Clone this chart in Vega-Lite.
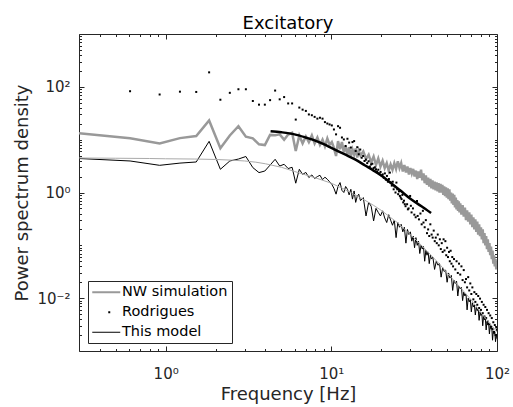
{
  "$schema": "https://vega.github.io/schema/vega-lite/v6.json",
  "width": 418,
  "height": 317,
  "autosize": "none",
  "padding": {"left": 79, "top": 34, "right": 16, "bottom": 56},
  "title": {"text": "Excitatory", "fontSize": 18, "font": "DejaVu Sans", "fontWeight": "normal", "color": "black", "offset": -13, "baseline": "alphabetic"},
  "config": {
    "font": "DejaVu Sans",
    "view": {"stroke": null},
    "axis": {"grid": false, "domainColor": "#262626", "tickColor": "#262626", "labelColor": "#262626", "titleColor": "#262626", "labelFont": "DejaVu Sans", "titleFont": "DejaVu Sans", "labelFontSize": 15, "titleFontSize": 18, "titleFontWeight": "normal", "labelFlush": false, "labelOverlap": false, "domainWidth": 1, "tickWidth": 1}
  },
  "datasets": {
    "nw": [
      {"f":0.3,"p":13.3},{"f":0.61,"p":10.6},{"f":0.92,"p":8.5},{"f":1.22,"p":10.7},{"f":1.53,"p":11.7},{"f":1.83,"p":23.1},{"f":2.14,"p":6.9},{"f":2.44,"p":12},{"f":2.75,"p":18},{"f":3.05,"p":11.4},{"f":3.36,"p":10.6},{"f":3.66,"p":8.15},{"f":3.97,"p":7.9},{"f":4.27,"p":12.3},{"f":4.58,"p":12.1},{"f":4.88,"p":12.6},{"f":5.19,"p":10},{"f":5.49,"p":12.5},{"f":5.8,"p":13.5},{"f":6.1,"p":6.1},{"f":6.41,"p":12},{"f":6.71,"p":8.5},{"f":7.02,"p":11.5},{"f":7.32,"p":9},{"f":7.63,"p":12},{"f":7.93,"p":8.5},{"f":8.24,"p":11},{"f":8.54,"p":8},{"f":8.85,"p":10},{"f":9.15,"p":7.5},{"f":9.46,"p":10.5},{"f":9.76,"p":8},{"f":10.07,"p":9},{"f":10.37,"p":7},{"f":10.68,"p":4.9},{"f":10.98,"p":9.4},{"f":11.29,"p":6.6},{"f":11.59,"p":9},{"f":11.9,"p":5.8},{"f":12.2,"p":7.6},{"f":12.51,"p":5.2},{"f":12.81,"p":7.2},{"f":13.12,"p":4.8},{"f":13.42,"p":6.5},{"f":13.73,"p":5.2},{"f":14.03,"p":6.8},{"f":14.34,"p":4.6},{"f":14.64,"p":6.2},
      {"f":15.0,"p":5.0},{"f":15.6,"p":6.0},{"f":16.2,"p":4.3},{"f":16.8,"p":5.2},{"f":17.4,"p":3.7},{"f":18.0,"p":4.8},{"f":18.6,"p":3.3},{"f":19.2,"p":4.4},{"f":19.8,"p":3.1},{"f":20.4,"p":4.0},{"f":21.0,"p":2.9},{"f":21.6,"p":3.6},{"f":22.2,"p":2.6},{"f":22.8,"p":3.4},{"f":23.4,"p":2.7},{"f":24.0,"p":3.6},{"f":24.6,"p":2.8},{"f":25.2,"p":3.9},{"f":25.8,"p":2.9},{"f":26.4,"p":3.6},{"f":27.0,"p":2.5},{"f":27.6,"p":3.3},{"f":28.2,"p":2.4},{"f":28.8,"p":3.1},{"f":29.4,"p":2.2},{"f":30.0,"p":2.9},{"f":30.6,"p":2.3},{"f":31.2,"p":2.8},{"f":31.8,"p":2.0},{"f":32.4,"p":2.6},{"f":33.0,"p":1.8},{"f":33.6,"p":2.5},{"f":34.2,"p":1.9},{"f":34.8,"p":2.7},{"f":35.4,"p":1.7},{"f":36.0,"p":2.3},{"f":36.6,"p":1.5},{"f":37.2,"p":2.1},{"f":37.8,"p":1.4},{"f":38.4,"p":1.9},{"f":39.0,"p":1.3},{"f":39.6,"p":1.8},{"f":40.2,"p":1.2},{"f":40.8,"p":1.7},{"f":41.4,"p":1.15},{"f":42.0,"p":1.6},{"f":42.6,"p":1.1},{"f":43.2,"p":1.55},{"f":43.8,"p":1.05},{"f":44.4,"p":1.5},{"f":45.0,"p":1.0},{"f":45.6,"p":1.45},{"f":46.2,"p":1.0},{"f":46.8,"p":1.4},{"f":47.4,"p":0.9},{"f":48.0,"p":1.3},{"f":48.6,"p":0.85},{"f":49.2,"p":1.25},{"f":49.8,"p":0.8},{"f":50.4,"p":1.2},{"f":51.0,"p":0.75},{"f":51.6,"p":1.15},{"f":52.2,"p":0.7},{"f":52.8,"p":1.0},{"f":53.4,"p":0.62},{"f":54.0,"p":0.95},{"f":54.6,"p":0.58},{"f":55.2,"p":0.9},{"f":55.8,"p":0.52},{"f":56.4,"p":0.8},{"f":57.0,"p":0.48},{"f":57.6,"p":0.72},{"f":58.2,"p":0.45},{"f":58.8,"p":0.68},{"f":59.4,"p":0.42},{"f":60.0,"p":0.62},
      {"f":61,"p":0.38},{"f":62,"p":0.58},{"f":63,"p":0.35},{"f":64,"p":0.52},{"f":65,"p":0.3},{"f":66,"p":0.46},{"f":67,"p":0.28},{"f":68,"p":0.42},{"f":69,"p":0.25},{"f":70,"p":0.38},{"f":71,"p":0.22},{"f":72,"p":0.34},{"f":73,"p":0.2},{"f":74,"p":0.31},{"f":75,"p":0.18},{"f":76,"p":0.28},{"f":77,"p":0.16},{"f":78,"p":0.25},{"f":79,"p":0.15},{"f":80,"p":0.22},{"f":81,"p":0.13},{"f":82,"p":0.2},{"f":83,"p":0.11},{"f":84,"p":0.17},{"f":85,"p":0.1},{"f":86,"p":0.15},{"f":87,"p":0.085},{"f":88,"p":0.13},{"f":89,"p":0.075},{"f":90,"p":0.11},{"f":91,"p":0.065},{"f":92,"p":0.095},{"f":93,"p":0.055},{"f":94,"p":0.08},{"f":95,"p":0.045},{"f":96,"p":0.065},{"f":97,"p":0.04},{"f":98,"p":0.055},{"f":99,"p":0.035},{"f":100,"p":0.042}
    ],
    "rod": [
      {"f":0.61,"p":82.6},{"f":0.92,"p":71.6},{"f":1.22,"p":81},{"f":1.53,"p":80},{"f":1.83,"p":188},{"f":2.14,"p":57},{"f":2.44,"p":77},{"f":2.75,"p":90},{"f":3.05,"p":90},{"f":3.36,"p":54},{"f":3.66,"p":46},{"f":3.97,"p":46},{"f":4.27,"p":56},{"f":4.58,"p":85},{"f":4.88,"p":58},{"f":5.19,"p":64},{"f":5.49,"p":48.5},{"f":5.8,"p":48.5},{"f":6.1,"p":24},{"f":6.41,"p":40.5},{"f":6.71,"p":37},{"f":7.02,"p":35},{"f":7.32,"p":30},{"f":7.63,"p":29},{"f":7.93,"p":27},{"f":8.24,"p":25},{"f":8.54,"p":26},{"f":8.85,"p":25},{"f":9.15,"p":21.5},{"f":9.46,"p":20.2},{"f":9.76,"p":19.4},{"f":10.07,"p":18.6},{"f":10.37,"p":15.6},{"f":10.68,"p":12.6},{"f":10.98,"p":18},{"f":11.29,"p":16.8},{"f":11.59,"p":11},{"f":11.9,"p":10.1},{"f":12.2,"p":7.6},{"f":12.51,"p":10.4},{"f":12.81,"p":8.8},{"f":13.12,"p":7.1},{"f":13.42,"p":9},{"f":13.73,"p":9.4},{"f":14.03,"p":6.1},{"f":14.34,"p":7.2},{"f":14.64,"p":5.3},{"f":14.95,"p":6.5},{"f":15.25,"p":4.55},{"f":15.56,"p":4.9},{"f":15.86,"p":3.95},
      {"f":16.17,"p":4.2},{"f":16.47,"p":3.6},{"f":16.78,"p":3.9},{"f":17.08,"p":3.1},{"f":17.39,"p":3.4},{"f":17.69,"p":3.5},{"f":18.0,"p":2.9},{"f":18.3,"p":3.0},{"f":18.61,"p":2.75},{"f":18.91,"p":2.5},{"f":19.22,"p":2.7},{"f":19.52,"p":2.3},{"f":19.83,"p":2.45},{"f":20.13,"p":2.1},{"f":20.44,"p":2.2},{"f":20.74,"p":1.9},{"f":21.05,"p":2.3},{"f":21.35,"p":1.75},{"f":21.66,"p":2.06},{"f":21.96,"p":1.6},{"f":22.27,"p":1.8},{"f":22.57,"p":2.38},{"f":22.88,"p":1.55},{"f":23.18,"p":1.35},{"f":23.49,"p":1.6},{"f":23.79,"p":1.15},{"f":24.1,"p":1.3},{"f":24.4,"p":1.0},{"f":24.71,"p":1.54},{"f":25.01,"p":1.15},{"f":25.32,"p":0.93},{"f":25.62,"p":1.05},{"f":25.93,"p":0.86},{"f":26.23,"p":0.8},{"f":26.54,"p":0.75},{"f":26.84,"p":0.9},{"f":27.15,"p":0.65},{"f":27.45,"p":0.7},{"f":27.76,"p":0.6},{"f":28.06,"p":0.55},{"f":28.67,"p":0.6},{"f":28.98,"p":0.48},{"f":29.28,"p":0.5},{"f":29.9,"p":0.86},{"f":30.2,"p":0.56},{"f":30.5,"p":0.42},{"f":31.1,"p":0.5},{"f":31.7,"p":0.38},{"f":32.3,"p":0.34},{"f":32.9,"p":0.69},{"f":33.2,"p":0.36},{"f":33.8,"p":0.31},{"f":34.5,"p":0.4},{"f":35.1,"p":0.25},{"f":35.7,"p":0.45},{"f":36.0,"p":0.27},{"f":36.6,"p":0.22},{"f":37.2,"p":0.3},{"f":37.8,"p":0.17},{"f":38.4,"p":0.2},{"f":39.0,"p":0.15},{"f":39.6,"p":0.25},
      {"f":40.3,"p":0.16},{"f":40.9,"p":0.14},{"f":41.5,"p":0.19},{"f":42.1,"p":0.12},{"f":42.7,"p":0.14},{"f":43.3,"p":0.11},{"f":43.9,"p":0.16},{"f":44.5,"p":0.1},{"f":45.2,"p":0.13},{"f":45.8,"p":0.085},{"f":46.4,"p":0.11},{"f":47.0,"p":0.075},{"f":47.6,"p":0.13},{"f":48.2,"p":0.08},{"f":48.8,"p":0.12},{"f":49.4,"p":0.065},{"f":50.0,"p":0.09},{"f":50.6,"p":0.06},{"f":51.3,"p":0.075},{"f":51.9,"p":0.05},{"f":52.5,"p":0.079},{"f":53.1,"p":0.045},{"f":53.7,"p":0.06},{"f":54.3,"p":0.04},{"f":55,"p":0.055},{"f":56,"p":0.035},{"f":57,"p":0.05},{"f":58,"p":0.03},{"f":59,"p":0.045},{"f":60,"p":0.028},{"f":61,"p":0.04},{"f":62,"p":0.022},{"f":63,"p":0.034},{"f":64,"p":0.02},{"f":65,"p":0.023},{"f":66,"p":0.016},{"f":67,"p":0.025},{"f":68,"p":0.014},{"f":69,"p":0.019},{"f":70,"p":0.012},{"f":71,"p":0.016},{"f":72,"p":0.0095},{"f":73,"p":0.013},{"f":74,"p":0.0085},{"f":75,"p":0.012},{"f":76,"p":0.0075},{"f":77,"p":0.011},{"f":78,"p":0.0065},{"f":79,"p":0.0098},{"f":80,"p":0.006},{"f":81,"p":0.0085},{"f":82,"p":0.0052},{"f":83,"p":0.0075},{"f":84,"p":0.0045},{"f":85,"p":0.0068},{"f":86,"p":0.0042},{"f":87,"p":0.006},{"f":88,"p":0.0036},{"f":89,"p":0.0052},{"f":90,"p":0.0032},{"f":91,"p":0.0047},{"f":92,"p":0.0029},{"f":93,"p":0.0042},{"f":94,"p":0.0026},{"f":95,"p":0.0035},{"f":96,"p":0.0023},{"f":97,"p":0.0031},{"f":98,"p":0.002},{"f":99,"p":0.0028},{"f":100,"p":0.0025}
    ],
    "model": [
      {"f":0.3,"p":4.4},{"f":0.61,"p":3.95},{"f":0.92,"p":3.27},{"f":1.22,"p":3.6},{"f":1.53,"p":3.78},{"f":1.83,"p":9.3},{"f":2.14,"p":2.75},{"f":2.44,"p":3.95},{"f":2.75,"p":4.3},{"f":3.05,"p":4.8},{"f":3.36,"p":2.96},{"f":3.66,"p":2.38},{"f":3.97,"p":2.55},{"f":4.27,"p":3.3},{"f":4.58,"p":4.25},{"f":4.88,"p":3.17},{"f":5.19,"p":3.42},{"f":5.49,"p":2.84},{"f":5.8,"p":3.0},{"f":6.1,"p":1.5},{"f":6.41,"p":2.75},{"f":6.71,"p":2.2},{"f":7.02,"p":2.4},{"f":7.32,"p":1.92},{"f":7.63,"p":2.15},{"f":7.93,"p":1.84},{"f":8.24,"p":2.0},{"f":8.54,"p":2.12},{"f":8.85,"p":1.75},{"f":9.15,"p":1.95},{"f":9.46,"p":1.78},{"f":9.76,"p":1.6},{"f":10.07,"p":1.43},{"f":10.37,"p":1.2},{"f":10.68,"p":0.93},{"f":10.98,"p":1.3},{"f":11.29,"p":1.54},{"f":11.59,"p":1.1},{"f":11.9,"p":1.0},{"f":12.2,"p":1.3},{"f":12.51,"p":1.15},{"f":12.81,"p":0.9},{"f":13.12,"p":1.15},{"f":13.42,"p":0.75},{"f":13.73,"p":1.07},{"f":14.03,"p":0.65},{"f":14.34,"p":0.85},{"f":14.64,"p":0.93},
      {"f":15.0,"p":0.7},{"f":15.6,"p":0.8},{"f":16.2,"p":0.36},{"f":16.8,"p":0.65},{"f":17.4,"p":0.55},{"f":18.0,"p":0.29},{"f":18.6,"p":0.5},{"f":19.2,"p":0.42},{"f":19.8,"p":0.36},{"f":20.4,"p":0.45},{"f":21.0,"p":0.33},{"f":21.6,"p":0.27},{"f":22.2,"p":0.38},{"f":22.8,"p":0.3},{"f":23.4,"p":0.24},{"f":24.0,"p":0.3},{"f":24.6,"p":0.14},{"f":25.2,"p":0.27},{"f":25.8,"p":0.22},{"f":26.4,"p":0.25},{"f":27.0,"p":0.18},{"f":27.6,"p":0.22},{"f":28.2,"p":0.11},{"f":28.8,"p":0.2},{"f":29.4,"p":0.16},{"f":30.0,"p":0.18},{"f":30.6,"p":0.12},{"f":31.2,"p":0.15},{"f":31.8,"p":0.09},{"f":32.4,"p":0.14},{"f":33.0,"p":0.1},{"f":33.6,"p":0.12},{"f":34.2,"p":0.07},{"f":34.8,"p":0.1},{"f":35.4,"p":0.085},{"f":36.0,"p":0.095},{"f":36.6,"p":0.05},{"f":37.2,"p":0.08},{"f":37.8,"p":0.065},{"f":38.4,"p":0.075},{"f":39.0,"p":0.045},{"f":39.6,"p":0.065},{"f":40.2,"p":0.055},
      {"f":41,"p":0.06},{"f":42,"p":0.035},{"f":43,"p":0.05},{"f":44,"p":0.042},{"f":45,"p":0.045},{"f":46,"p":0.025},{"f":47,"p":0.038},{"f":48,"p":0.032},{"f":49,"p":0.034},{"f":50,"p":0.02},{"f":51,"p":0.03},{"f":52,"p":0.024},{"f":53,"p":0.027},{"f":54,"p":0.014},{"f":55,"p":0.022},{"f":56,"p":0.019},{"f":57,"p":0.021},{"f":58,"p":0.011},{"f":59,"p":0.017},{"f":60,"p":0.015},{"f":61,"p":0.016},{"f":62,"p":0.009},{"f":63,"p":0.013},{"f":64,"p":0.011},{"f":65,"p":0.012},{"f":66,"p":0.006},{"f":67,"p":0.01},{"f":68,"p":0.0085},{"f":69,"p":0.0095},{"f":70,"p":0.0055},{"f":71,"p":0.0082},{"f":72,"p":0.0068},{"f":73,"p":0.0075},{"f":74,"p":0.0048},{"f":75,"p":0.0068},{"f":76,"p":0.0058},{"f":77,"p":0.0063},{"f":78,"p":0.0038},{"f":79,"p":0.0055},{"f":80,"p":0.0047},{"f":81,"p":0.0052},{"f":82,"p":0.003},{"f":83,"p":0.0045},{"f":84,"p":0.0039},{"f":85,"p":0.0042},{"f":86,"p":0.0025},{"f":87,"p":0.0036},{"f":88,"p":0.0031},{"f":89,"p":0.0034},{"f":90,"p":0.0021},{"f":91,"p":0.003},{"f":92,"p":0.0026},{"f":93,"p":0.0028},{"f":94,"p":0.0016},{"f":95,"p":0.0024},{"f":96,"p":0.0021},{"f":97,"p":0.0023},{"f":98,"p":0.0015},{"f":99,"p":0.0021},{"f":100,"p":0.0017}
    ],
    "fit": [
      {"f":0.3,"p":4.5},{"f":0.5,"p":4.45},{"f":0.8,"p":4.4},{"f":1,"p":4.35},{"f":1.5,"p":4.3},{"f":2,"p":4.22},{"f":2.5,"p":4.1},{"f":3,"p":3.95},{"f":3.5,"p":3.75},{"f":4,"p":3.5},{"f":5,"p":3.0},{"f":6,"p":2.5},{"f":7,"p":2.15},{"f":8,"p":1.9},{"f":10,"p":1.5},{"f":12,"p":1.15},{"f":15,"p":0.8},{"f":18,"p":0.57},{"f":20,"p":0.46},{"f":25,"p":0.27},{"f":30,"p":0.16},{"f":35,"p":0.1},{"f":40,"p":0.065},{"f":45,"p":0.044},{"f":50,"p":0.03},{"f":60,"p":0.016},{"f":70,"p":0.0092},{"f":80,"p":0.0053},{"f":90,"p":0.0034},{"f":100,"p":0.0023}
    ],
    "curve": [
      {"f":4.3,"p":14.5},{"f":5,"p":13.8},{"f":6,"p":12.6},{"f":7,"p":11},{"f":8,"p":9.6},{"f":9,"p":8.2},{"f":10,"p":7.0},{"f":12,"p":5.3},{"f":14,"p":4.2},{"f":16,"p":3.25},{"f":18,"p":2.6},{"f":20,"p":2.1},{"f":23,"p":1.5},{"f":26,"p":1.1},{"f":30,"p":0.76},{"f":35,"p":0.55},{"f":40,"p":0.41}
    ]
  },
  "layer": [
    {
      "data": {"name": "nw"},
      "mark": {"type": "line", "strokeWidth": 2.5, "clip": true},
      "encoding": {
        "x": {"field": "f", "type": "quantitative", "scale": {"type": "log", "domain": [0.3, 100], "nice": false},
              "axis": {"orient": "bottom", "values": [1, 10, 100], "tickSize": -5, "labelPadding": 20, "labelExpr": "datum.value < 5 ? '10⁰' : datum.value < 50 ? '10¹' : '10²'", "title": "Frequency [Hz]", "titlePadding": 4}},
        "y": {"field": "p", "type": "quantitative", "scale": {"type": "log", "domain": [0.001, 1000], "nice": false},
              "axis": {"orient": "left", "values": [0.01, 1, 100], "tickSize": -5, "labelPadding": 14, "labelExpr": "datum.value < 0.1 ? '10⁻²' : datum.value < 10 ? '10⁰' : '10²'", "title": "Power spectrum density", "titlePadding": 5}},
        "color": {"datum": "NW simulation", "type": "nominal",
                  "scale": {"domain": ["NW simulation", "Rodrigues", "This model"], "range": ["#999999", "#000000", "#000000"]},
                  "legend": {"orient": "none", "legendX": 9, "legendY": 247, "title": null, "padding": 4, "strokeColor": "#262626", "fillColor": "white", "labelFont": "DejaVu Sans", "labelFontSize": 14.5, "labelColor": "black", "symbolType": "M-7,0H21", "symbolSize": 4, "symbolStrokeWidth": 1, "rowPadding": 5, "labelOffset": 15.5,
                    "encoding": {"symbols": {
                      "shape": {"value": {"expr": "datum.value === 'Rodrigues' ? 'M9,-1H11V1H9Z' : 'M-7,0H21'"}},
                      "fill": {"value": {"expr": "datum.value === 'Rodrigues' ? 'black' : 'transparent'"}},
                      "strokeWidth": {"value": {"expr": "datum.value === 'NW simulation' ? 2 : datum.value === 'Rodrigues' ? 0 : 1"}}
                    }}}}
      }
    },
    {
      "data": {"name": "rod"},
      "mark": {"type": "square", "size": 4, "filled": true, "opacity": 1, "clip": true},
      "encoding": {
        "x": {"field": "f", "type": "quantitative", "scale": {"type": "log", "domain": [0.3, 100], "nice": false},
              "axis": {"orient": "bottom", "values": [0.3,0.4,0.5,0.6,0.7,0.8,0.9,2,3,4,5,6,7,8,9,20,30,40,50,60,70,80,90], "tickSize": -2.5, "labels": false, "domain": false, "title": null}},
        "y": {"field": "p", "type": "quantitative", "scale": {"type": "log", "domain": [0.001, 1000], "nice": false},
              "axis": {"orient": "left", "values": [0.002,0.003,0.004,0.005,0.006,0.007,0.008,0.009,0.02,0.03,0.04,0.05,0.06,0.07,0.08,0.09,0.1,0.2,0.3,0.4,0.5,0.6,0.7,0.8,0.9,2,3,4,5,6,7,8,9,10,20,30,40,50,60,70,80,90,200,300,400,500,600,700,800,900], "tickSize": -2.5, "labels": false, "domain": false, "title": null}},
        "color": {"datum": "Rodrigues", "type": "nominal"}
      }
    },
    {
      "data": {"name": "model"},
      "mark": {"type": "line", "strokeWidth": 1, "clip": true},
      "encoding": {
        "x": {"field": "f", "type": "quantitative", "scale": {"type": "log", "domain": [0.3, 100], "nice": false},
              "axis": {"orient": "top", "values": [1, 10, 100], "tickSize": -5, "labels": false, "title": null}},
        "y": {"field": "p", "type": "quantitative", "scale": {"type": "log", "domain": [0.001, 1000], "nice": false},
              "axis": {"orient": "right", "values": [0.01, 1, 100], "tickSize": -5, "labels": false, "title": null}},
        "color": {"datum": "This model", "type": "nominal"}
      }
    },
    {
      "data": {"name": "fit"},
      "mark": {"type": "line", "strokeWidth": 1, "color": "#aaaaaa", "clip": true},
      "encoding": {
        "x": {"field": "f", "type": "quantitative", "scale": {"type": "log", "domain": [0.3, 100], "nice": false},
              "axis": {"orient": "top", "values": [0.3,0.4,0.5,0.6,0.7,0.8,0.9,2,3,4,5,6,7,8,9,20,30,40,50,60,70,80,90], "tickSize": -2.5, "labels": false, "domain": false, "title": null}},
        "y": {"field": "p", "type": "quantitative", "scale": {"type": "log", "domain": [0.001, 1000], "nice": false},
              "axis": {"orient": "right", "values": [0.002,0.003,0.004,0.005,0.006,0.007,0.008,0.009,0.02,0.03,0.04,0.05,0.06,0.07,0.08,0.09,0.1,0.2,0.3,0.4,0.5,0.6,0.7,0.8,0.9,2,3,4,5,6,7,8,9,10,20,30,40,50,60,70,80,90,200,300,400,500,600,700,800,900], "tickSize": -2.5, "labels": false, "domain": false, "title": null}}
      }
    },
    {
      "data": {"name": "curve"},
      "mark": {"type": "line", "strokeWidth": 2.5, "color": "black", "clip": true, "interpolate": "monotone"},
      "encoding": {
        "x": {"field": "f", "type": "quantitative", "scale": {"type": "log", "domain": [0.3, 100], "nice": false}, "axis": null},
        "y": {"field": "p", "type": "quantitative", "scale": {"type": "log", "domain": [0.001, 1000], "nice": false}, "axis": null}
      }
    }
  ],
  "resolve": {"axis": {"x": "independent", "y": "independent"}}
}
